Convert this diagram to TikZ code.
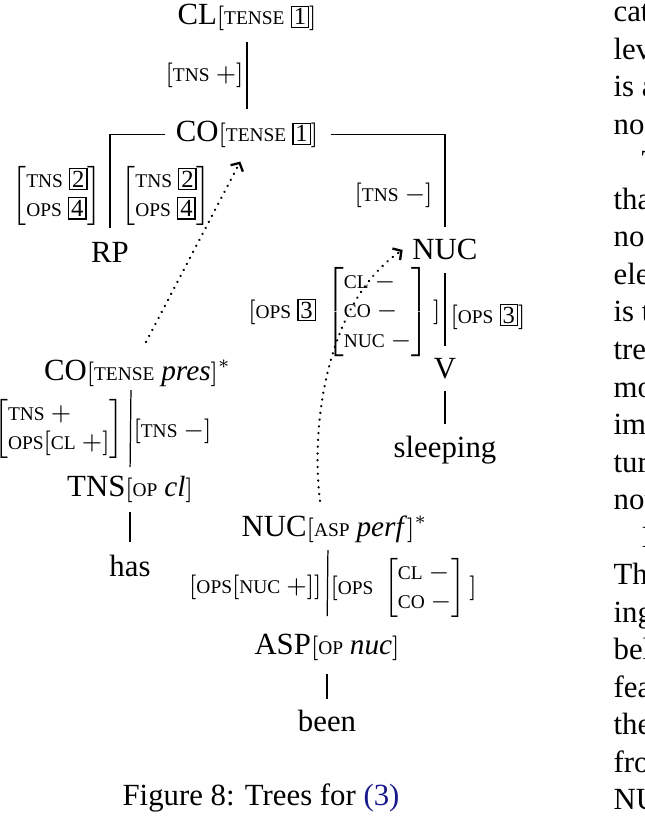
\documentclass[tikz,border=0pt]{standalone}
\usepackage{amsmath}
\usepackage{fontspec}
\setmainfont{Liberation Serif}
\usetikzlibrary{arrows.meta}
\definecolor{linkblue}{rgb}{0.1,0.1,0.55}
\newcommand\fsc[1]{{\fontsize{6.3pt}{7pt}\selectfont #1}}
\newcommand\fit[1]{{\fontsize{9.5pt}{11pt}\selectfont\itshape #1\/}}
\newcommand\bx[1]{{\setlength\fboxsep{0.6pt}\setlength\fboxrule{0.4pt}\fbox{\fontsize{8pt}{9pt}\selectfont #1}}}
\newcommand\astmark{\rlap{\small$^{*}$}}
\begin{document}
\begin{tikzpicture}[x=0.3247pt,y=-0.3247pt,
  tnode/.style={inner sep=0pt, anchor=base, font=\fontsize{10pt}{12pt}\selectfont},
  flab/.style={inner sep=0pt, font=\footnotesize},
  edge/.style={line width=0.4pt},
  dotarrow/.style={line width=0.75pt, dash pattern=on 0.1pt off 2.1pt, line cap=round,
    -{Straight Barb[length=2pt,width=4.5pt,line cap=butt]}},
  coltext/.style={inner sep=0pt, anchor=base west, font=\fontsize{10pt}{12pt}\selectfont}]
\useasboundingbox (0,0) rectangle (645,825);

% tree nodes
\node[tnode] (cl) at (247,25) {CL{\footnotesize$[\text{\fsc{TENSE} \bx{1}}]$}};
\node[tnode] (co) at (247,142) {CO{\footnotesize$[\text{\fsc{TENSE} \bx{1}}]$}};
\node[tnode] (rp) at (110,263) {RP};
\node[tnode] (nuc) at (445,260) {NUC};
\node[tnode] (v) at (445,378) {V};
\node[tnode] (sleeping) at (445,457) {sleeping};
\node[tnode] (copres) at (131,380) {CO{\footnotesize$[\text{\fsc{TENSE}\hspace{0.28em}\fit{pres}}]$\astmark}};
\node[tnode] (tns) at (130,496) {TNS{\footnotesize$[\text{\fsc{OP}\hspace{0.28em}\fit{cl}}]$}};
\node[tnode] (has) at (130,576) {has};
\node[tnode] (nucperf) at (328,536) {NUC{\footnotesize$[\text{\fsc{ASP}\hspace{0.28em}\fit{perf}}]$\astmark}};
\node[tnode] (asp) at (327,654) {ASP{\footnotesize$[\text{\fsc{OP}\hspace{0.28em}\fit{nuc}}]$}};
\node[tnode] (been) at (327,731) {been};

% edges
\draw[edge, shorten <=3.4pt, shorten >=3.9pt] (cl.south) -- (co.north);
\draw[edge, shorten <=3.2pt, shorten >=4.5pt] (co.west) -| (rp.north);
\draw[edge, shorten <=4pt, shorten >=3.9pt] (co.east) -| (nuc.north);
\draw[edge, shorten <=3.9pt, shorten >=3.6pt] (nuc.south) -- (v.north);
\draw[edge, shorten <=3.9pt, shorten >=3.6pt] (v.south) -- (sleeping.north);
\draw[edge, shorten <=1.1pt, shorten >=2.6pt] (copres.south) -- (tns.north);
\draw[edge, shorten <=3.1pt, shorten >=3.9pt] (tns.south) -- (has.north);
\draw[edge, shorten <=2.4pt, shorten >=5.5pt] (nucperf.south) -- (asp.north);
\draw[edge, shorten <=4.4pt, shorten >=3.2pt] (asp.south) -- (been.north);

% edge labels
\node[flab, anchor=base east] (f1) at (244,82) {$[\text{\fsc{TNS}}\ +]$};
\node[flab, anchor=east] (f2) at (102,196) {$\left[\begin{array}{@{}l@{}}\text{\fsc{TNS} \bx{2}}\\\text{\fsc{OPS} \bx{4}}\end{array}\right]$};
\node[flab, anchor=west] (f3) at (121,196) {$\left[\begin{array}{@{}l@{}}\text{\fsc{TNS} \bx{2}}\\\text{\fsc{OPS} \bx{4}}\end{array}\right]$};
\node[flab, anchor=base east] (f4) at (433,202) {$[\text{\fsc{TNS}}\ -]$};
\node[flab, anchor=east] (f5) at (441,312) {$[\text{\fsc{OPS} \bx{3}}\ \left[\begin{array}{@{}l@{}}\text{\fsc{CL}}\ -\\\text{\fsc{CO}}\ -\\\text{\fsc{NUC}}\ -\end{array}\right]\,]$};
\node[flab, anchor=base west] (f6) at (450,323) {$[\text{\fsc{OPS} \bx{3}}]$};
\node[flab, anchor=east] (f7) at (124,429) {$\left[\begin{array}{@{}l@{}}\text{\fsc{TNS}}\ +\\\text{\fsc{OPS}}[\text{\fsc{CL}}\ +]\end{array}\right]$};
\node[flab, anchor=base west] (f8) at (133,437) {$[\text{\fsc{TNS}}\ -]$};
\node[flab, anchor=base east] (f9) at (322,593) {$[\text{\fsc{OPS}}[\text{\fsc{NUC}}\ +]]$};
\node[flab, anchor=west] (f10) at (330,588) {$[\text{\fsc{OPS}}\ \left[\begin{array}{@{}l@{}}\text{\fsc{CL}}\ -\\\text{\fsc{CO}}\ -\end{array}\right]\,]$};

% dotted arrows
\draw[dotarrow, shorten <=6.2pt, shorten >=4.7pt] ([xshift=2pt]copres.north) -- (co.south);
\draw[dotarrow] ([xshift=-2.6pt,yshift=4.5pt]nucperf.north) .. controls +(-10,-82) and +(-73,49) .. ([xshift=-3pt]nuc.west);

% right column (cut-off body text)
\begin{scope}
\clip (0,0) rectangle (645,825);
\foreach \ind/\w [count=\i] in {0/categories,0/level,0/is a,0/node,1/The,0/that,0/node,0/elements,0/is the,0/tree,0/more,0/important,0/turn,0/not,1/In,0/The,0/ing,0/below,0/features,0/the,0/from,0/NUC}
  \node[coltext] (col\i) at ({613+28*\ind},{22+37.5*(\i-1)}) {\w};
\end{scope}

% caption
\node[inner sep=0pt, anchor=base, font=\fontsize{10pt}{12pt}\selectfont] (caption) at (261,805) {Figure 8: Trees for \textcolor{linkblue}{(3)}};
\end{tikzpicture}
\end{document}
